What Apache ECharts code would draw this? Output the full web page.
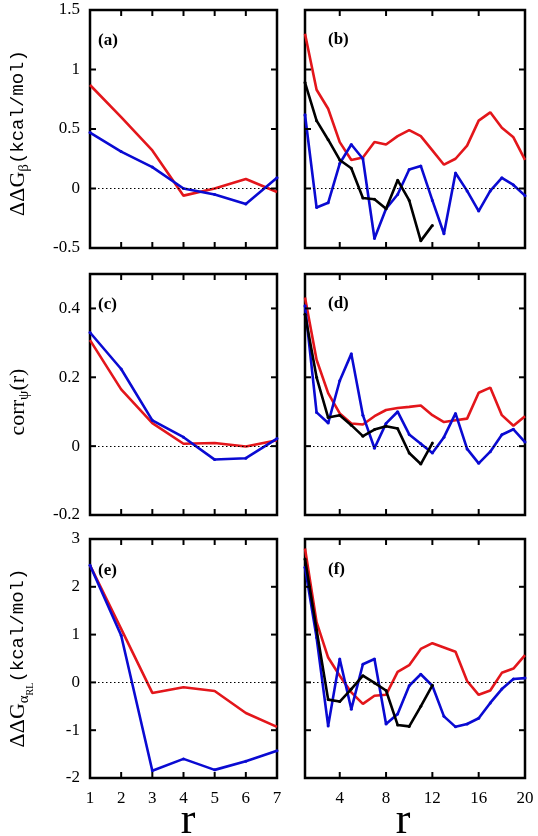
<!DOCTYPE html>
<html><head><meta charset="utf-8">
<script src="https://cdn.jsdelivr.net/npm/echarts@6/dist/echarts.min.js"></script>
<style>html,body{margin:0;padding:0;background:#fff}#c{width:538px;height:836px}</style>
</head><body><div id="c"></div>
<script>
// ---- data ----
var rShort = [1,2,3,4,5,6,7];
var rLong = [1,2,3,4,5,6,7,8,9,10,11,12,13,14,15,16,17,18,19,20];
var rBlack = [1,2,3,4,5,6,7,8,9,10,11,12];

var aRed  = [0.87,0.60,0.32,-0.06,0.00,0.08,-0.03];
var aBlue = [0.47,0.31,0.18,0.00,-0.05,-0.13,0.09];

var bRed   = [1.30,0.83,0.67,0.39,0.24,0.26,0.39,0.37,0.44,0.49,0.44,0.32,0.20,0.25,0.36,0.57,0.64,0.51,0.43,0.24];
var bBlue  = [0.62,-0.16,-0.12,0.21,0.37,0.25,-0.42,-0.17,-0.05,0.16,0.19,-0.10,-0.38,0.13,-0.02,-0.19,-0.02,0.09,0.03,-0.06];
var bBlack = [0.89,0.57,0.41,0.24,0.17,-0.08,-0.09,-0.17,0.07,-0.10,-0.44,-0.31];

var cRed  = [0.308,0.165,0.067,0.007,0.009,-0.001,0.017];
var cBlue = [0.330,0.224,0.075,0.026,-0.039,-0.035,0.022];

var dRed   = [0.432,0.251,0.154,0.095,0.066,0.063,0.087,0.105,0.111,0.114,0.118,0.090,0.070,0.075,0.080,0.155,0.170,0.090,0.059,0.087];
var dBlue  = [0.408,0.098,0.067,0.190,0.268,0.090,-0.006,0.066,0.100,0.034,0.007,-0.020,0.026,0.095,-0.008,-0.050,-0.016,0.033,0.049,0.012];
var dBlack = [0.383,0.200,0.083,0.090,0.061,0.029,0.048,0.058,0.051,-0.020,-0.052,0.009];

var eRed  = [2.45,1.12,-0.22,-0.10,-0.18,-0.64,-0.93];
var eBlue = [2.45,0.98,-1.85,-1.60,-1.83,-1.65,-1.43];

var fRed   = [2.80,1.26,0.52,0.14,-0.21,-0.45,-0.28,-0.26,0.22,0.36,0.70,0.82,0.73,0.64,0.03,-0.26,-0.17,0.20,0.29,0.57];
var fBlue  = [2.41,0.94,-0.91,0.49,-0.56,0.38,0.49,-0.87,-0.66,-0.07,0.17,-0.07,-0.71,-0.93,-0.87,-0.75,-0.43,-0.14,0.07,0.09];
var fBlack = [2.58,1.10,-0.36,-0.40,-0.14,0.14,-0.01,-0.17,-0.89,-0.92,-0.50,-0.06];

var leftXTicks = [1,2,3,4,5,6,7];
var rightXTicks = [4,8,12,16,20];
var yTicksA = [-0.5,0,0.5,1,1.5];
var yTicksC = [-0.2,0,0.2,0.4];
var yTicksE = [-2,-1,0,1,2,3];
var yRanges = [[-0.5,1.5],[-0.2,0.5],[-2,3]];
var panelLabels = ['(a)','(b)','(c)','(d)','(e)','(f)'];

// ---- layout ----
var RED='#e3161b', BLUE='#0a0ad2', BLACK='#000';
var FONT='Liberation Serif';
var cols=[{left:90,width:187,min:1,max:7,ticks:leftXTicks},{left:305,width:220,min:1,max:20,ticks:rightXTicks}];
var rows=[{top:10,height:238,ticks:yTicksA},{top:274,height:241,ticks:yTicksC},{top:539,height:239,ticks:yTicksE}];

var grids=[],xAxes=[],yAxes=[],series=[];
function zip(xs,ys){return ys.map(function(v,i){return [xs[i],v];});}
var panelData=[
 [[aRed,rShort],[aBlue,rShort]],
 [[bRed,rLong],[bBlue,rLong],[bBlack,rBlack]],
 [[cRed,rShort],[cBlue,rShort]],
 [[dRed,rLong],[dBlue,rLong],[dBlack,rBlack]],
 [[eRed,rShort],[eBlue,rShort]],
 [[fRed,rLong],[fBlue,rLong],[fBlack,rBlack]]
];
var colors=[RED,BLUE,BLACK];
var TL=6, TW=2;
var panels=[];

var p=0;
rows.forEach(function(row,ri){
 cols.forEach(function(col,ci){
  var gi=grids.length;
  grids.push({left:col.left,top:row.top,width:col.width,height:row.height,show:true,borderColor:'#000',borderWidth:2.5,backgroundColor:'transparent'});
  var isBottom=(ri===2);
  var yr=yRanges[ri];
  xAxes.push({type:'value',gridIndex:gi,min:col.min,max:col.max,position:'bottom',
    axisLine:{show:false,onZero:false},splitLine:{show:false},axisTick:{show:false},
    axisLabel:isBottom?{show:true,margin:12,color:'#000',fontFamily:FONT,fontSize:17,customValues:col.ticks}:{show:false}});
  yAxes.push({type:'value',gridIndex:gi,min:yr[0],max:yr[1],position:'left',
    axisLine:{show:false,onZero:false},splitLine:{show:false},axisTick:{show:false},
    axisLabel:ci===0?{show:true,margin:10,color:'#000',fontFamily:FONT,fontSize:17,customValues:row.ticks}:{show:false}});
  panelData[p].forEach(function(pd,si){
   var s={type:'line',xAxisIndex:gi,yAxisIndex:gi,data:zip(pd[1],pd[0]),
     lineStyle:{color:colors[si],width:2.6},itemStyle:{color:colors[si]},
     symbol:si===0?'none':'circle',symbolSize:3,showSymbol:si!==0,silent:true,animation:false,z:2+si};
   if(si===0){s.markLine={silent:true,symbol:'none',label:{show:false},animation:false,
     lineStyle:{type:[1.5,2.5],color:'#000',width:1},data:[{yAxis:0}]};}
   series.push(s);
  });
  panels.push({gi:gi,xr:[col.min,col.max],yr:yr,xt:col.ticks,yt:row.ticks});
  p++;
 });
});

var labelPos=[[98,41],[328,40],[98,305],[328,304],[98,571],[328,570]];
var graphic=[];
panelLabels.forEach(function(t,i){
 graphic.push({type:'text',left:labelPos[i][0],top:labelPos[i][1]-9,style:{text:t,font:'bold 17px "Liberation Serif"',fill:'#000'}});
});
var richY={
 g:{fontFamily:FONT,fontSize:22,fill:'#000'},
 s:{fontFamily:FONT,fontSize:15,padding:[12,0,0,0]},
 ss:{fontFamily:FONT,fontSize:10,padding:[24,0,0,0]},
 m:{fontFamily:'Liberation Mono',fontSize:19}
};
function ylab(txt,x,y){
 return {type:'text',x:x,y:y,rotation:Math.PI/2,style:{text:txt,rich:richY,align:'center',verticalAlign:'middle',fill:'#000'}};
}
graphic.push(ylab('{g|ΔΔG}{s|β}{m|(kcal/mol)}',18,133));
graphic.push(ylab('{g|corr}{s|ψ}{g|(r)}',18,402));
graphic.push(ylab('{g|ΔΔG}{s|α}{ss|RL}{m|(kcal/mol)}',18,658));
graphic.push({type:'text',x:188,y:821,style:{text:'r',font:'44px "Liberation Serif"',fill:'#000',align:'center',verticalAlign:'middle'}});
graphic.push({type:'text',x:403,y:821,style:{text:'r',font:'44px "Liberation Serif"',fill:'#000',align:'center',verticalAlign:'middle'}});

var chart=echarts.init(document.getElementById('c'),null,{renderer:'canvas'});
chart.setOption({animation:false,backgroundColor:'#fff',grid:grids,xAxis:xAxes,yAxis:yAxes,series:series,graphic:graphic});

// inward tick marks on all four sides, positioned through the chart's own scales
var ticks=[];
panels.forEach(function(pn){
 function px(x,y){return chart.convertToPixel({gridIndex:pn.gi},[x,y]);}
 pn.xt.forEach(function(v){
  var a=px(v,pn.yr[0]), b=px(v,pn.yr[1]);
  ticks.push({type:'rect',z:50,silent:true,shape:{x:a[0]-TW/2,y:a[1]-TL,width:TW,height:TL},style:{fill:'#000'}});
  ticks.push({type:'rect',z:50,silent:true,shape:{x:b[0]-TW/2,y:b[1],width:TW,height:TL},style:{fill:'#000'}});
 });
 pn.yt.forEach(function(v){
  var a=px(pn.xr[0],v), b=px(pn.xr[1],v);
  ticks.push({type:'rect',z:50,silent:true,shape:{x:a[0],y:a[1]-TW/2,width:TL,height:TW},style:{fill:'#000'}});
  ticks.push({type:'rect',z:50,silent:true,shape:{x:b[0]-TL,y:b[1]-TW/2,width:TL,height:TW},style:{fill:'#000'}});
 });
});
chart.setOption({graphic:graphic.concat(ticks)});
</script></body></html>
